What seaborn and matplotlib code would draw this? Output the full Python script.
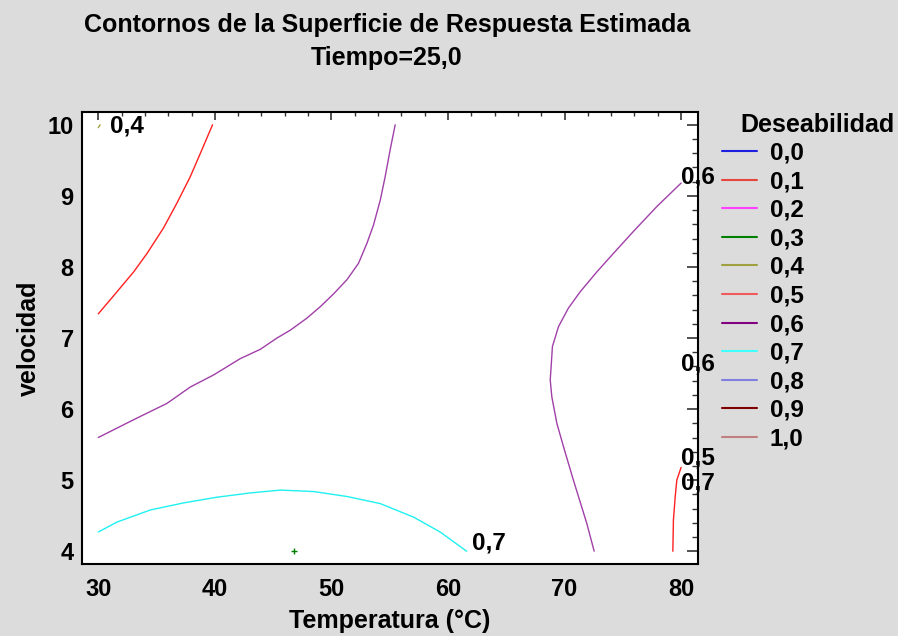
import matplotlib
matplotlib.use('Agg')
import matplotlib.pyplot as plt
from matplotlib.lines import Line2D
from matplotlib.ticker import MultipleLocator
import seaborn as sns

# niveles de deseabilidad de la leyenda
niveles = ['0,0', '0,1', '0,2', '0,3', '0,4', '0,5', '0,6', '0,7', '0,8', '0,9', '1,0']
colores = ['#1F1FE0', '#E8453C', '#FF40FF', '#008000', '#A0A040', '#F05A5A',
           '#800080', '#40FFFF', '#8080E0', '#800000', '#C08080']

# contornos: temperatura (x) y velocidad (y)
c04_t = [30.0, 30.15]
c04_v = [9.96, 10.0]

c05a_t = [30.0, 31.6, 33.03, 34.18, 35.6, 36.75, 37.89, 38.89, 39.8]
c05a_v = [7.34, 7.65, 7.93, 8.19, 8.55, 8.9, 9.27, 9.65, 10.0]

c05b_t = [80.0, 79.63, 79.49, 79.34, 79.29]
c05b_v = [5.18, 5.0, 4.76, 4.44, 4.0]

c06a_t = [30.0, 33.03, 35.89, 37.89, 39.89, 42.18, 43.89, 45.33, 46.47, 47.9,
          49.04, 50.18, 51.33, 52.32, 53.04, 53.61, 54.19, 54.61, 55.04, 55.47]
c06a_v = [5.6, 5.85, 6.08, 6.31, 6.48, 6.71, 6.84, 7.0, 7.11, 7.28,
          7.44, 7.62, 7.82, 8.05, 8.33, 8.59, 8.94, 9.27, 9.65, 10.0]

c06b_t = [80.0, 77.92, 75.91, 74.19, 72.77, 71.34, 70.33, 69.48, 68.96, 68.85,
          68.77, 68.91, 69.34, 69.91, 70.76, 71.91, 72.54]
c06b_v = [9.18, 8.85, 8.5, 8.19, 7.93, 7.65, 7.42, 7.16, 6.88, 6.6,
          6.41, 6.17, 5.8, 5.47, 5.0, 4.39, 4.0]

c07_t = [30.0, 31.6, 34.46, 37.32, 40.18, 43.04, 45.61, 48.46, 51.33, 54.19,
         57.04, 59.33, 61.6]
c07_v = [4.27, 4.41, 4.58, 4.68, 4.76, 4.82, 4.86, 4.84, 4.77, 4.67,
         4.48, 4.27, 4.0]

# punto optimo
opt_t = [46.75]
opt_v = [4.0]

# etiquetas de los contornos
etiquetas = ['0,4', '0,6', '0,6', '0,5', '0,7', '0,7']
etiq_t = [31.0, 80.0, 80.0, 80.0, 80.0, 62.1]
etiq_v = [9.99, 9.27, 6.63, 5.31, 4.96, 4.11]

sns.set_theme(style='white')
plt.rcParams['font.family'] = ['Liberation Sans', 'DejaVu Sans']
plt.rcParams['font.weight'] = 'bold'
plt.rcParams['text.color'] = 'black'
plt.rcParams['axes.labelcolor'] = 'black'

fig = plt.figure(figsize=(8.98, 6.36), dpi=100, facecolor='#DCDCDC')
ax = fig.add_axes([0.0913, 0.1132, 0.686, 0.7107])
ax.set_facecolor('white')

curvas = [(c04_t, c04_v, colores[4]), (c05a_t, c05a_v, '#FF2020'),
          (c05b_t, c05b_v, '#FF2020'), (c06a_t, c06a_v, '#A040A8'),
          (c06b_t, c06b_v, '#A040A8'), (c07_t, c07_v, '#20F0F0')]
for t, v, col in curvas:
    sns.lineplot(x=t, y=v, sort=False, estimator=None, color=col, lw=1.0, ax=ax)

ax.plot(opt_t, opt_v, marker='+', color='#008000', ms=5, mew=1, ls='none')

for txt, t, v in zip(etiquetas, etiq_t, etiq_v):
    ax.text(t, v, txt, fontsize=17.5, fontweight='bold', ha='left', va='center',
            clip_on=False)

ax.set_xlim(28.6, 81.45)
ax.set_ylim(3.82, 10.18)
ax.xaxis.set_major_locator(MultipleLocator(10))
ax.xaxis.set_minor_locator(MultipleLocator(2))
ax.yaxis.set_major_locator(MultipleLocator(1))
ax.yaxis.set_minor_locator(MultipleLocator(0.2))
ax.tick_params(axis='both', which='both', direction='in', top=True, right=True,
               colors='#333333', labelcolor='black', labelsize=17)
ax.tick_params(axis='x', which='major', length=6, width=1.2, pad=10)
ax.tick_params(axis='x', which='minor', length=3, width=1)
ax.tick_params(axis='y', which='major', length=8, width=1.2, pad=6)
ax.tick_params(axis='y', which='minor', length=4, width=1)
for s in ax.spines.values():
    s.set_color('black')
    s.set_linewidth(1.5)

ax.set_xlabel('Temperatura (°C)', fontsize=18, fontweight='bold', labelpad=6)
ax.set_ylabel('velocidad', fontsize=18, fontweight='bold', labelpad=5)

fig.text(0.431, 0.950, 'Contornos de la Superficie de Respuesta Estimada',
         fontsize=18, fontweight='bold', ha='center', va='baseline')
fig.text(0.431, 0.8975, 'Tiempo=25,0', fontsize=18, fontweight='bold',
         ha='center', va='baseline')

# leyenda
manejadores = [Line2D([], [], color=c, lw=1.5) for c in colores]
fig.text(0.824, 0.803, 'Deseabilidad', fontsize=18, fontweight='bold',
         ha='left', va='center')
fig.legend(manejadores, niveles, loc='upper left', bbox_to_anchor=(0.804, 0.7774),
           frameon=False, fontsize=17.5, handlelength=1.44, handletextpad=0.53,
           labelspacing=0.23, borderaxespad=0, borderpad=0)

fig.savefig('out.png', dpi=100, facecolor=fig.get_facecolor())
